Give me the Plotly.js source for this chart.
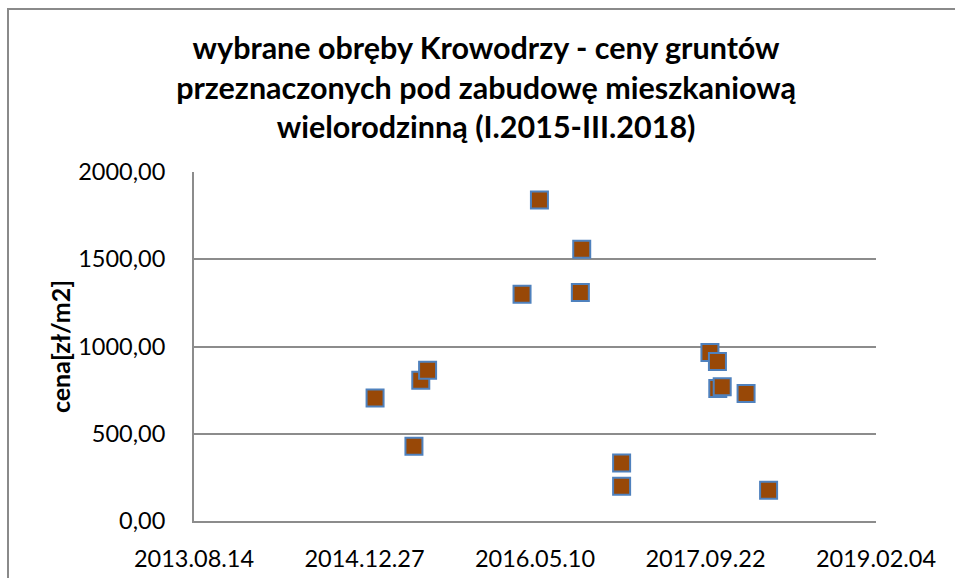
<!DOCTYPE html>
<html>
<head>
<meta charset="utf-8">
<script src="https://cdn.plot.ly/plotly-3.0.1.min.js"></script>
<style>
  html, body { margin: 0; padding: 0; background: #ffffff; }
  #chart { width: 955px; height: 578px; }
</style>
</head>
<body>
<div id="chart"></div>
<script>
// Transaction dates
const transactionDates = [
  '2015-01-27', '2015-06-10', '2015-06-30', '2015-05-21',
  '2016-04-02', '2016-05-23', '2016-09-24', '2016-09-20',
  '2017-01-19', '2017-01-19', '2017-10-05', '2017-10-27',
  '2017-10-28', '2017-11-10', '2018-01-19', '2018-03-26'
];
// Prices [zł/m2]
const prices = [
  705, 807, 864, 428,
  1300, 1839, 1557, 1310,
  333, 199, 966, 914,
  759, 769, 731, 176
];
// Axis settings
const xRange = ['2013-08-14', '2019-02-04'];
const xTickStart = '2013-08-14';
const xTickStepDays = 500;
const yRange = [0, 2000];
const yTickStep = 500;

const chartTitle = 'wybrane obręby Krowodrzy - ceny gruntów<br>przeznaczonych pod zabudowę mieszkaniową<br>wielorodzinną (I.2015-III.2018)';
const yTitle = 'cena[zł/m2]';

const W = 955, H = 578;
const L = 194, R = 79, T = 172, B = 57;
const pw = W - L - R, ph = H - T - B;
const px = v => (v - L) / pw;
const py = v => (H - B - v) / ph;

const trace = {
  type: 'scatter',
  mode: 'markers',
  x: transactionDates,
  y: prices,
  marker: {
    symbol: 'square',
    size: 17,
    color: '#984807',
    line: { color: '#4F81BD', width: 2 }
  },
  hoverinfo: 'x+y'
};

const font = 'Lato, "Open Sans", sans-serif';

const layout = {
  width: W,
  height: H,
  margin: { l: L, r: R, t: T, b: B, pad: 0 },
  paper_bgcolor: '#ffffff',
  plot_bgcolor: '#ffffff',
  separators: ', ',
  showlegend: false,
  font: { family: font, color: '#000000', size: 23.5 },
  title: {
    text: chartTitle,
    font: { family: font, size: 30.5, color: '#000000', weight: 'bold' },
    xref: 'container',
    x: 0.509,
    xanchor: 'center',
    yref: 'container',
    y: 1 - 59 / H,
    yanchor: 'top'
  },
  xaxis: {
    type: 'date',
    range: xRange,
    tick0: xTickStart,
    dtick: xTickStepDays * 86400000,
    tickformat: '%Y.%m.%d',
    showgrid: false,
    zeroline: false,
    showline: true,
    linecolor: '#8c8c8c',
    linewidth: 2,
    ticks: '',
    ticklabelstandoff: 16,
    tickfont: { family: font, size: 23.5, color: '#000000' },
    fixedrange: true
  },
  yaxis: {
    range: yRange,
    dtick: yTickStep,
    tick0: 0,
    tickformat: '.2f',
    showgrid: true,
    gridcolor: '#8c8c8c',
    gridwidth: 2,
    zeroline: false,
    showline: true,
    linecolor: '#8c8c8c',
    linewidth: 2,
    ticks: '',
    ticklabelstandoff: 22,
    tickfont: { family: font, size: 23.5, color: '#000000' },
    title: {
      text: '<b>' + yTitle + '</b>',
      font: { family: font, size: 25, color: '#000000' },
      standoff: 0
    },
    fixedrange: true
  },
  shapes: [
    {
      type: 'path',
      xref: 'paper', yref: 'paper',
      path: 'M ' + px(8) + ' ' + py(590) + ' L ' + px(8) + ' ' + py(9) + ' L ' + px(965) + ' ' + py(9),
      line: { color: '#8a8a8a', width: 2 },
      layer: 'below'
    }
  ]
};

Plotly.newPlot('chart', [trace], layout, { displayModeBar: false, staticPlot: false });
</script>
</body>
</html>
